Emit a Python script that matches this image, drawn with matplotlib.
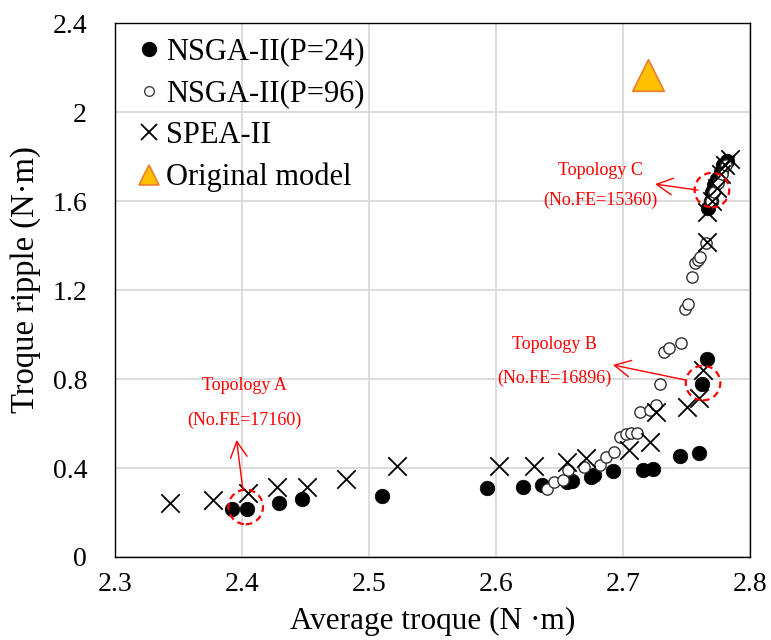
import matplotlib
matplotlib.use('Agg')
import matplotlib.pyplot as plt
from matplotlib.lines import Line2D

plt.rcParams['font.family'] = 'serif'
plt.rcParams['font.serif'] = ['Liberation Serif', 'DejaVu Serif']

# ---------------- data ----------------
nsga24_x = [2.392, 2.404, 2.429, 2.447, 2.510, 2.593, 2.621, 2.636, 2.656, 2.660,
            2.675, 2.677, 2.692, 2.716, 2.724, 2.745, 2.760, 2.762, 2.766,
            2.767, 2.769, 2.770, 2.772, 2.774, 2.777, 2.779, 2.782]
nsga24_y = [0.214, 0.216, 0.244, 0.259, 0.274, 0.309, 0.313, 0.325, 0.338, 0.343,
            0.358, 0.368, 0.385, 0.391, 0.397, 0.452, 0.469, 0.777, 0.888,
            1.57, 1.60, 1.64, 1.67, 1.70, 1.73, 1.76, 1.78]

nsga96_x = [2.640, 2.646, 2.653, 2.657, 2.669, 2.682, 2.687, 2.693, 2.698, 2.702,
            2.706, 2.711, 2.713, 2.721, 2.726, 2.729, 2.732, 2.736, 2.746, 2.749,
            2.751, 2.754, 2.757, 2.759, 2.761, 2.765, 2.769, 2.772, 2.775, 2.778,
            2.781]
nsga96_y = [0.304, 0.338, 0.346, 0.391, 0.406, 0.413, 0.451, 0.473, 0.541, 0.553,
            0.556, 0.556, 0.653, 0.661, 0.683, 0.778, 0.923, 0.938, 0.960, 1.115,
            1.135, 1.260, 1.320, 1.335, 1.350, 1.410, 1.60, 1.64, 1.68, 1.72,
            1.76]

spea_x = [2.343, 2.377, 2.405, 2.428, 2.451, 2.482, 2.522, 2.602, 2.630, 2.656,
          2.671, 2.705, 2.721, 2.726, 2.750, 2.760, 2.763, 2.766, 2.766, 2.770,
          2.774, 2.777, 2.780, 2.784]
spea_y = [0.244, 0.256, 0.286, 0.316, 0.316, 0.349, 0.409, 0.409, 0.409, 0.428,
          0.443, 0.480, 0.516, 0.650, 0.675, 0.715, 0.840, 1.417, 1.55, 1.60,
          1.66, 1.72, 1.76, 1.79]

orig_x = [2.720]
orig_y = [2.166]

labels = ['NSGA-II(P=24)', 'NSGA-II(P=96)', 'SPEA-II', 'Original model']

x_ticks = [2.3, 2.4, 2.5, 2.6, 2.7, 2.8]
x_ticklabels = ['2.3', '2.4', '2.5', '2.6', '2.7', '2.8']
y_ticks = [0, 0.4, 0.8, 1.2, 1.6, 2.0, 2.4]
y_ticklabels = ['0', '0.4', '0.8', '1.2', '1.6', '2', '2.4']

topo_names = ['Topology A', 'Topology B', 'Topology C']
topo_fe = ['(No.FE=17160)', '(No.FE=16896)', '(No.FE=15360)']
topo_pt = [(2.403, 0.225), (2.763, 0.782), (2.770, 1.649)]
topo_txt = [(2.4016, 0.769, 0.616), (2.6457, 0.953, 0.804), (2.682, 1.739, 1.604)]
topo_head = [(2.3958, 0.526), (2.6921, 0.863), (2.7252, 1.676)]
topo_tail = [(2.4008, 0.301), (2.7488, 0.796), (2.7591, 1.649)]

# ---------------- figure ----------------
fig = plt.figure(figsize=(7.71, 6.40), dpi=100)
ax = fig.add_axes([0.149, 0.1297, 0.8238, 0.8343])

ax.scatter(nsga24_x, nsga24_y, s=110, c='black', edgecolors='black', linewidths=0.5, zorder=3)
ax.scatter(nsga96_x, nsga96_y, s=66, facecolors='white', edgecolors='#303030', linewidths=1.0, zorder=4)
ax.scatter(spea_x, spea_y, s=175, marker='x', c='black', linewidths=1.3, zorder=5)
ax.scatter(orig_x, orig_y, s=520, marker='^', facecolors='#FFC000', edgecolors='#ED7D31',
           linewidths=1.2, zorder=5)

for (px, py), (tx, ty1, ty2), (hx, hy), (sx, sy), nm, fe in zip(topo_pt, topo_txt, topo_head,
                                                                 topo_tail, topo_names, topo_fe):
    ax.scatter([px], [py], s=620, facecolors='none', edgecolors='red', linewidths=1.6,
               linestyle=(0, (3, 2)), zorder=6)
    ax.annotate('', xy=(hx, hy), xytext=(sx, sy),
                arrowprops=dict(arrowstyle='->,head_length=1.15,head_width=0.6',
                                color='red', lw=1.0, shrinkA=0, shrinkB=0), zorder=6)
    ax.text(tx, ty1, nm, color='red', fontsize=13, ha='center', va='center', zorder=6)
    ax.text(tx, ty2, fe, color='red', fontsize=13, ha='center', va='center', zorder=6)

ax.set_xlim(2.3, 2.8)
ax.set_ylim(0, 2.4)
ax.set_xticks(x_ticks)
ax.set_xticklabels(x_ticklabels)
ax.set_yticks(y_ticks)
ax.set_yticklabels(y_ticklabels)
ax.tick_params(length=0, labelsize=20)
ax.tick_params(axis='y', pad=20)
ax.tick_params(axis='x', pad=11)
ax.grid(True, color='#D9D9D9', linewidth=1.3)
ax.set_axisbelow(True)
for sp in ax.spines.values():
    sp.set_color('black')
    sp.set_linewidth(1.0)

ax.set_xlabel('Average troque (N ·m)', fontsize=22.5, labelpad=7)
ax.set_ylabel('Troque ripple (N·m)', fontsize=23.5)
ax.yaxis.set_label_coords(-0.117, 0.52)

handles = [
    Line2D([], [], ls='', marker='o', mfc='black', mec='black', ms=10),
    Line2D([], [], ls='', marker='o', mfc='white', mec='#404040', ms=7, mew=1.0),
    Line2D([], [], ls='', marker='x', color='black', ms=12, mew=1.3),
    Line2D([], [], ls='', marker='^', mfc='#FFC000', mec='#ED7D31', ms=15, mew=1.2),
]
ax.legend(handles, labels, loc='upper left', bbox_to_anchor=(0.035, 0.973), frameon=False,
          fontsize=22, handlelength=0.8, handletextpad=0.15, labelspacing=0.42,
          borderpad=0, borderaxespad=0)

fig.savefig('out.png', dpi=100)
